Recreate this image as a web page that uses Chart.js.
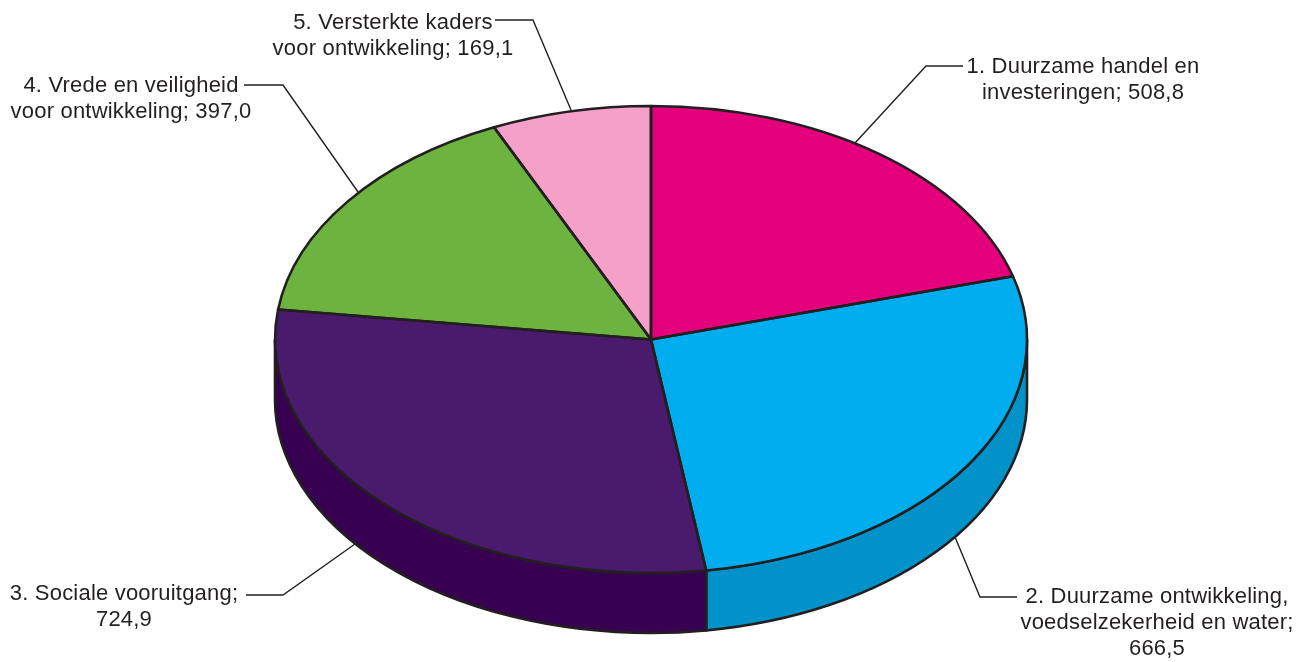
<!DOCTYPE html>
<html>
<head>
<meta charset="utf-8">
<title>Taart</title>
<script src="https://cdn.jsdelivr.net/npm/chart.js@4/dist/chart.umd.min.js"></script>
<style>
  html, body { margin: 0; padding: 0; background: #fff; }
  #wrap { width: 1310px; height: 662px; }
</style>
</head>
<body>
<div id="wrap"><canvas id="taart" width="1310" height="662"></canvas></div>
<script>
// data
const categories = ['1. Duurzame handel en investeringen', '2. Duurzame ontwikkeling, voedselzekerheid en water', '3. Sociale vooruitgang', '4. Vrede en veiligheid voor ontwikkeling', '5. Versterkte kaders voor ontwikkeling'];
const values = [508.8, 666.5, 724.9, 397.0, 169.1];
const topColors = ['#E4007C', '#00AEEF', '#4A1A6C', '#6CB33F', '#F5A0C8'];
const sideColors = ['#B00060', '#0092C8', '#370050', '#4F8A2C', '#C97CA3'];

// labels: text lines + where they sit
const labelLines = [
  ['1. Duurzame handel en', 'investeringen; 508,8'],
  ['2. Duurzame ontwikkeling,', 'voedselzekerheid en water;', '666,5'],
  ['3. Sociale vooruitgang;', '724,9'],
  ['4. Vrede en veiligheid', 'voor ontwikkeling; 397,0'],
  ['5. Versterkte kaders', 'voor ontwikkeling; 169,1']
];
const labelX = [1083, 1157, 124, 131, 393];
const labelY = [73, 603, 600, 92, 29];
const leaders = [
  [[855, 143], [926, 66], [963, 66]],
  [[955, 537], [980, 597], [1017, 597]],
  [[355, 544], [283, 595], [246, 595]],
  [[358, 192], [283, 85], [244, 85]],
  [[571, 110], [533, 20], [495, 20]]
];

const SQUASH = 233.5 / 376;
const DEPTH = 60;
const LINE = '#231F20';

function ellipsePath(ctx, arc, start, end) {
  ctx.ellipse(arc.x, arc.y, arc.outerRadius, arc.outerRadius * SQUASH, 0, start, end);
}

// tilt: slices are drawn squashed, the wall of the disc comes first
const tiltPlugin = {
  id: 'tilt',
  beforeDatasetDraw(chart) {
    const ctx = chart.ctx;
    const arcs = chart.getDatasetMeta(0).data;
    ctx.save();
    ctx.lineWidth = 2.6;
    ctx.strokeStyle = LINE;
    ctx.lineJoin = 'round';
    arcs.forEach((arc, i) => {
      // only the front half of the disc shows a wall
      const a = Math.max(arc.startAngle, 0);
      const b = Math.min(arc.endAngle, Math.PI);
      if (b <= a) return;
      ctx.beginPath();
      ellipsePath(ctx, arc, a, b);
      ctx.lineTo(arc.x + arc.outerRadius * Math.cos(b), arc.y + arc.outerRadius * SQUASH * Math.sin(b) + DEPTH);
      ctx.ellipse(arc.x, arc.y + DEPTH, arc.outerRadius, arc.outerRadius * SQUASH, 0, b, a, true);
      ctx.closePath();
      ctx.fillStyle = sideColors[i];
      ctx.fill();
      ctx.stroke();
    });
    ctx.restore();
    ctx.save();
    const c = arcs[0];
    ctx.translate(c.x, c.y);
    ctx.scale(1, SQUASH);
    ctx.translate(-c.x, -c.y);
  },
  afterDatasetDraw(chart) {
    const ctx = chart.ctx;
    ctx.restore();
    const arcs = chart.getDatasetMeta(0).data;
    // outline in normal space so the line keeps one width
    ctx.save();
    ctx.lineWidth = 2.6;
    ctx.strokeStyle = LINE;
    ctx.lineJoin = 'round';
    arcs.forEach(arc => {
      ctx.beginPath();
      ctx.moveTo(arc.x, arc.y);
      ellipsePath(ctx, arc, arc.startAngle, arc.endAngle);
      ctx.closePath();
      ctx.stroke();
    });
    ctx.restore();
  }
};

const labelPlugin = {
  id: 'sliceLabels',
  afterDraw(chart) {
    const ctx = chart.ctx;
    ctx.save();
    ctx.strokeStyle = LINE;
    ctx.lineWidth = 1.4;
    leaders.forEach(pts => {
      ctx.beginPath();
      pts.forEach((p, i) => i ? ctx.lineTo(p[0], p[1]) : ctx.moveTo(p[0], p[1]));
      ctx.stroke();
    });
    ctx.fillStyle = LINE;
    ctx.font = '22px "Liberation Sans", Arial, sans-serif';
    ctx.letterSpacing = '0.2px';
    ctx.textAlign = 'center';
    ctx.textBaseline = 'alphabetic';
    labelLines.forEach((lines, i) => {
      lines.forEach((t, j) => ctx.fillText(t, labelX[i], labelY[i] + j * 26));
    });
    ctx.restore();
  }
};

new Chart(document.getElementById('taart').getContext('2d'), {
  type: 'pie',
  data: {
    labels: categories,
    datasets: [{
      data: values,
      backgroundColor: topColors,
      borderWidth: 0,
      radius: 376
    }]
  },
  options: {
    responsive: false,
    animation: false,
    layout: { padding: { top: 17, right: 8, bottom: 0, left: 0 } },
    plugins: {
      legend: { display: false },
      tooltip: { enabled: false }
    }
  },
  plugins: [tiltPlugin, labelPlugin]
});
</script>
</body>
</html>
